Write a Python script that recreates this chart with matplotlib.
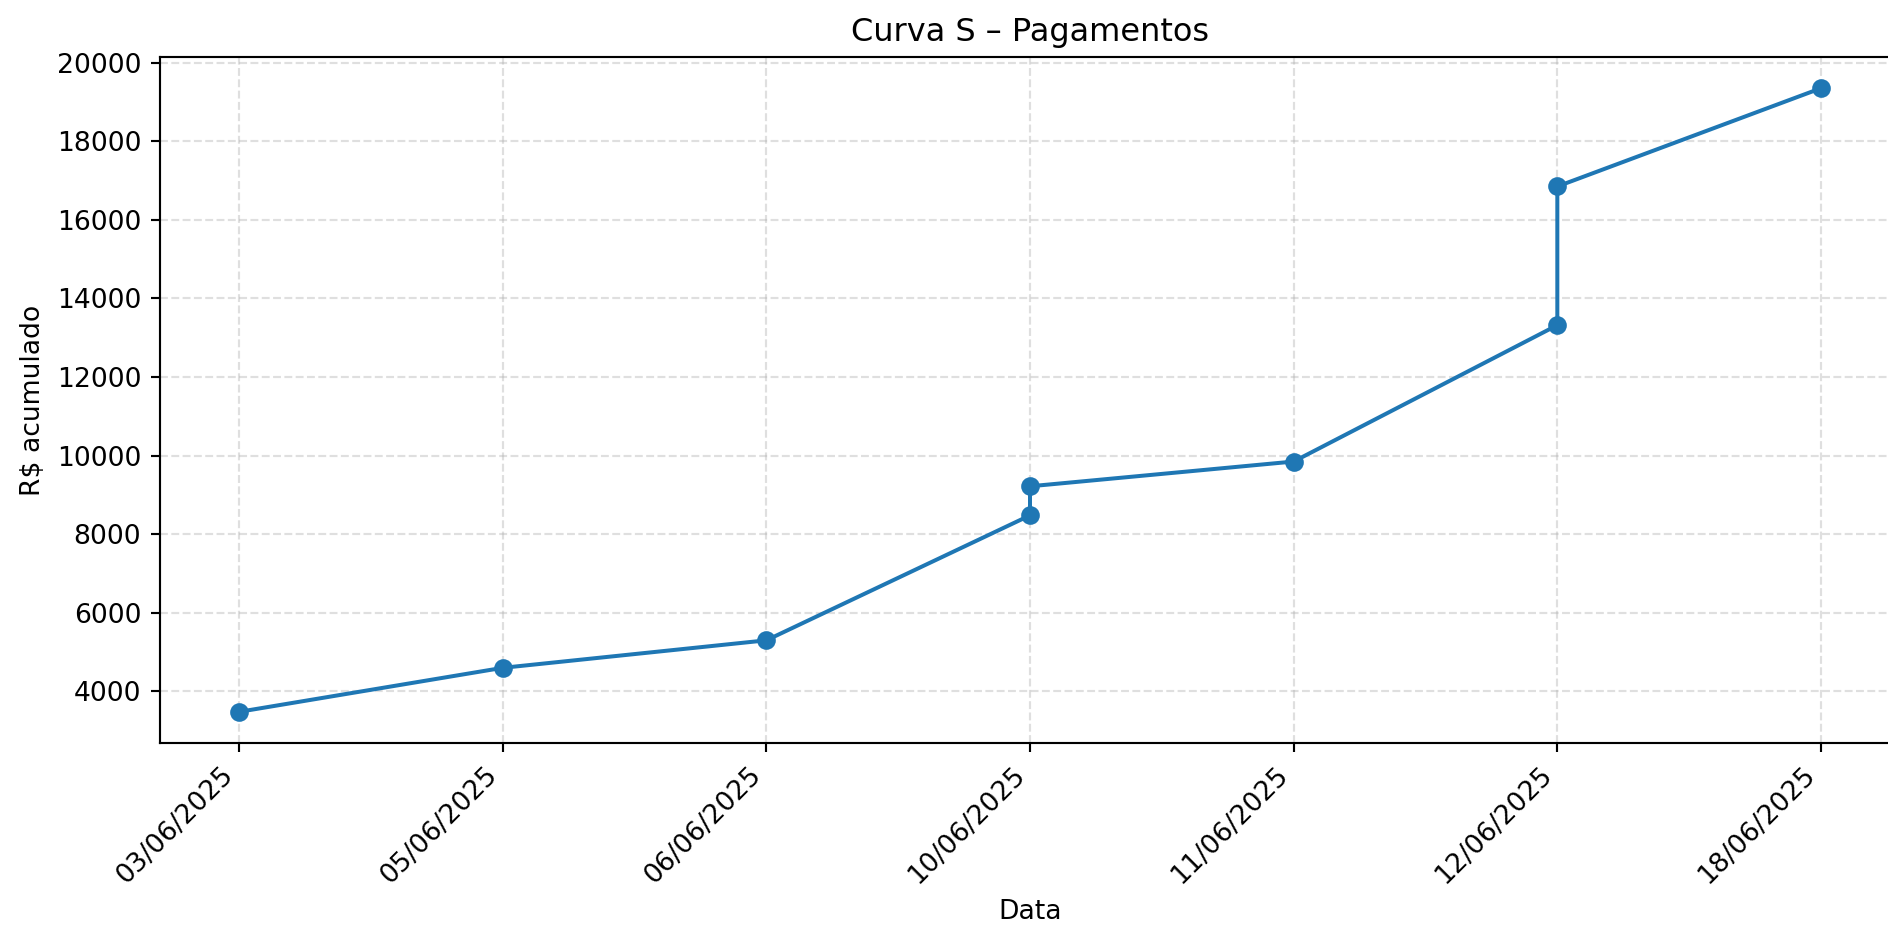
import matplotlib
matplotlib.use("Agg")
from matplotlib import pyplot as plt

datas = ["03/06/2025", "05/06/2025", "06/06/2025", "10/06/2025", "10/06/2025",
         "11/06/2025", "12/06/2025", "12/06/2025", "18/06/2025"]
acumulado = [3480, 4600, 5300, 8480, 9220, 9850, 13320, 16850, 19350]

fig = plt.figure(figsize=(1888 / 192, 926 / 192), dpi=192)
ax = fig.add_axes([0.0847, 0.1976, 0.9217, 0.7408])

ax.plot(datas, acumulado, marker="o")
ax.set_title("Curva S – Pagamentos")
ax.set_xlabel("Data")
ax.set_ylabel("R$ acumulado")
ax.grid(True, linestyle="--", alpha=0.4)
plt.setp(ax.get_xticklabels(), rotation=45, ha="right")

fig.savefig("out.png", dpi=192)
